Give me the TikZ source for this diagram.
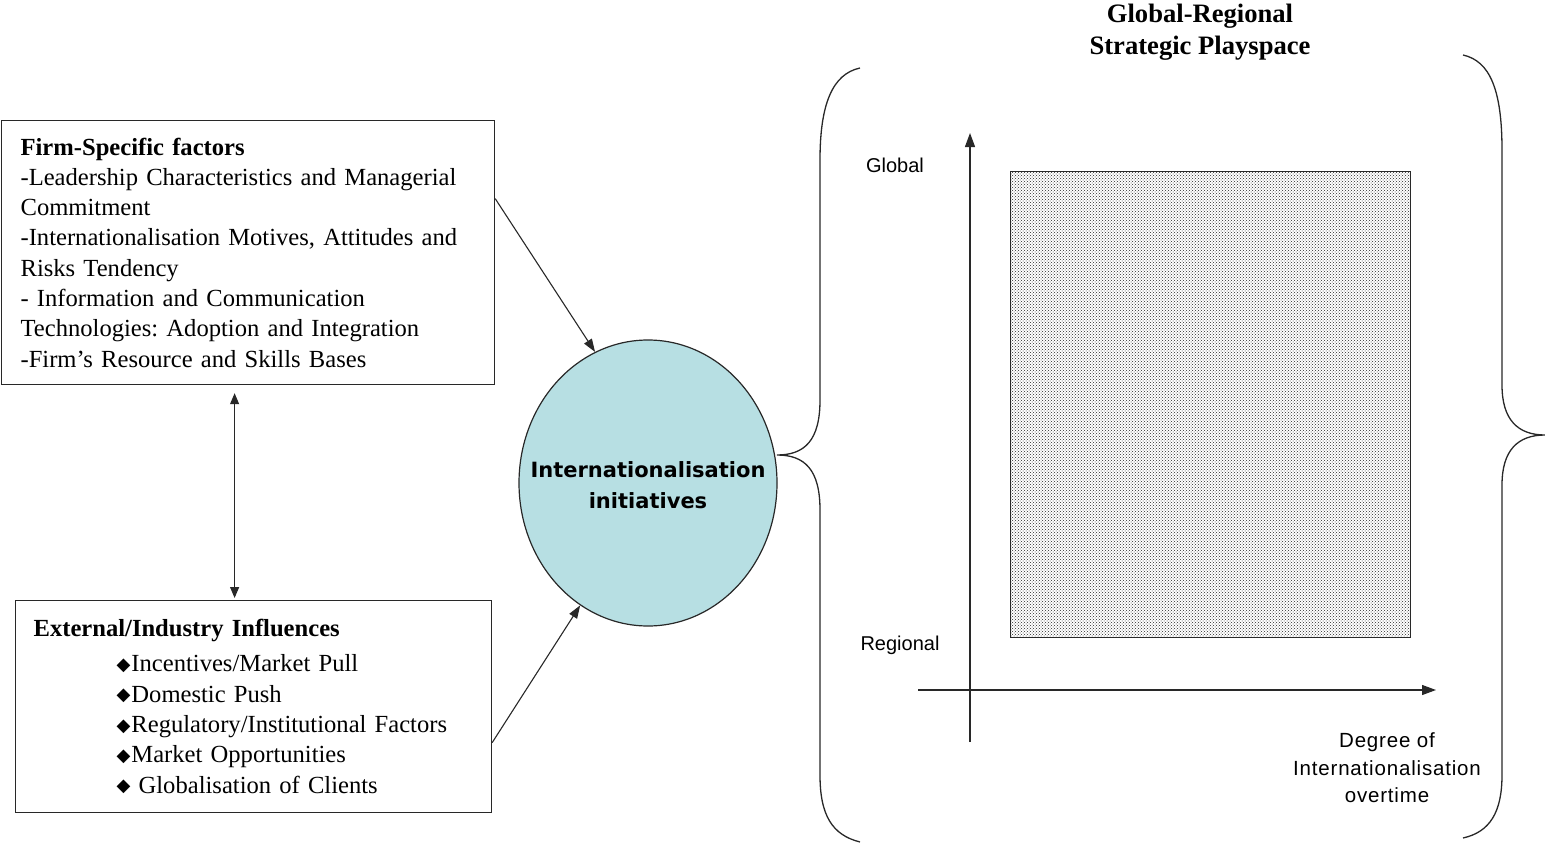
\documentclass[tikz,border=0pt]{standalone}
\usepackage{fontspec}
\setmainfont{Liberation Serif}
\setsansfont{Liberation Sans}
\newfontfamily\ellfont{DejaVu Sans}
\newfontfamily\symfont{DejaVu Sans}
\usetikzlibrary{shapes.geometric,arrows.meta,patterns,calc}
\definecolor{ellblue}{RGB}{183,223,227}
\definecolor{linegray}{RGB}{40,40,40}
\newcommand{\dia}{\raisebox{1.5pt}{\symfont\fontsize{18}{18}\selectfont ◆}}
\frenchspacing
\tikzset{
  factorbox/.style={draw=linegray, line width=1.2pt, rectangle, align=left, anchor=north west,
    font=\frenchspacing\fontsize{24.6}{30.3}\selectfont},
  arr/.style={line width=1.1pt, draw=linegray, -{Triangle[length=13pt,width=9pt]}},
  darr/.style={line width=1.1pt, draw=linegray, {Triangle[length=11pt,width=9pt]}-{Triangle[length=11pt,width=9pt]}},
  bracepath/.style={line width=1.3pt, draw=linegray},
  axislabel/.style={font=\sffamily\fontsize{20}{27.5}\selectfont, align=center},
}
\begin{document}
\begin{tikzpicture}[x=1pt,y=-1pt]
\useasboundingbox (0,0) rectangle (1545,843);

% left boxes
\node[factorbox, minimum width=493pt, minimum height=264pt, text width=455pt, inner xsep=19pt] (firm) at (1,120)
{\textbf{Firm-Specific factors}\\
-Leadership Characteristics and Managerial\\
Commitment\\
-Internationalisation Motives, Attitudes and\\
Risks Tendency\\
- Information and Communication\\
Technologies: Adoption and Integration\\
-Firm’s Resource and Skills Bases};

\node[factorbox, minimum width=476pt, minimum height=212pt, text width=440pt, inner xsep=18pt] (ext) at (15,600)
{\textbf{External/Industry Influences}\\[5pt]
\hspace*{83pt}\dia\hspace{1pt}Incentives/Market Pull\\
\hspace*{83pt}\dia\hspace{1pt}Domestic Push\\
\hspace*{83pt}\dia\hspace{1pt}Regulatory/Institutional Factors\\
\hspace*{83pt}\dia\hspace{1pt}Market Opportunities\\
\hspace*{83pt}\dia\ Globalisation of Clients};

% central ellipse
\node[ellipse, draw=linegray, line width=1.2pt, fill=ellblue, minimum width=258pt, minimum height=286pt,
  inner sep=0pt] (init) at (648,483) {};
\node[align=center, font=\ellfont\bfseries\fontsize{21}{31}\selectfont] (initlabel) at ([yshift=-2pt]init.center)
{Internationalisation\\initiatives};

% connectors
\coordinate (firmout) at ([yshift=54pt]firm.east);
\coordinate (extout) at ([yshift=-36pt]ext.east);
\draw[arr] (firmout) -- (init.112);
\draw[arr] (extout) -- (init.241);
\coordinate (dtop) at ([xshift=-13.5pt,yshift=-8pt]firm.south);
\coordinate (dbot) at ([yshift=2pt]dtop |- ext.north);
\draw[darr] (dtop) -- (dbot);

% braces
\draw[bracepath] (860,68) .. controls (832,74) and (820,105) .. (820,160) -- (820,400)
  .. controls (820,440) and (805,455) .. (777,455)
  .. controls (805,455) and (820,470) .. (820,510) -- (820,775)
  .. controls (820,815) and (832,835) .. (860,842);
\draw[bracepath] (1463,55) .. controls (1490,61) and (1502,90) .. (1502,150) -- (1502,385)
  .. controls (1502,420) and (1518,435) .. (1545,435)
  .. controls (1518,435) and (1502,450) .. (1502,485) -- (1502,775)
  .. controls (1502,812) and (1490,832) .. (1463,838);

% title
\node[align=center, font=\bfseries\fontsize{26.6}{32}\selectfont] (title) at (1200,32)
{Global-Regional\\Strategic Playspace};

% axes and playspace
\node[draw=linegray, line width=1.3pt, pattern=crosshatch dots, pattern color=black!85,
  minimum width=400pt, minimum height=466pt, anchor=north west, inner sep=0pt] (space) at (1010,171) {};
\coordinate (ybot) at (970,742);
\coordinate (ytop) at (970,133);
\coordinate (xleft) at (918,690);
\coordinate (xright) at (1436,690);
\draw[line width=1.2pt, draw=linegray, -{Triangle[length=14pt,width=10pt]}] (ybot) -- (ytop);
\draw[line width=1.2pt, draw=linegray, -{Triangle[length=14pt,width=10pt]}] (xleft) -- (xright);

\node[axislabel] (glob) at (895,165) {Global};
\node[axislabel] (reg) at (900,645) {Regional};
\node[axislabel, font=\sffamily\addfontfeature{LetterSpace=4}\fontsize{20.5}{27.5}\selectfont] (deg) at (1387,768) {Degree of\\Internationalisation\\overtime};
\end{tikzpicture}
\end{document}
